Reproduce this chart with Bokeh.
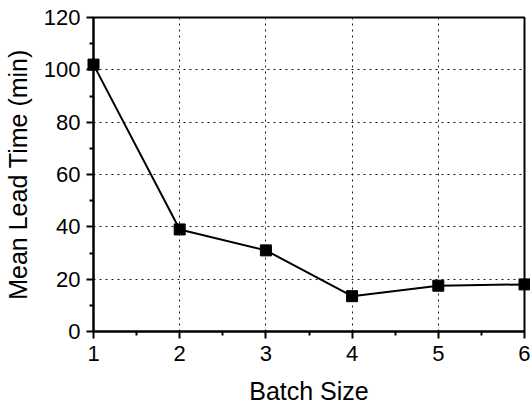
from bokeh.plotting import figure
from bokeh.models import FixedTicker, Range1d
from bokeh.embed import file_html
from bokeh.resources import INLINE

batch_size = [1, 2, 3, 4, 5, 6]
mean_lead_time = [102, 39, 31, 13.5, 17.5, 18]

x_ticks = [1, 2, 3, 4, 5, 6]
x_minor = [1.5, 2.5, 3.5, 4.5, 5.5]
y_ticks = [0, 20, 40, 60, 80, 100, 120]
y_minor = [10, 30, 50, 70, 90, 110]

x_title = "Batch Size"
y_title = "Mean Lead Time (min)"

FONT = "Liberation Sans"

p = figure(width=530, height=408, frame_width=431, frame_height=314,
           output_backend="svg", toolbar_location=None,
           x_range=Range1d(1, 6), y_range=Range1d(0, 120),
           min_border_left=93, min_border_right=6, min_border_top=17, min_border_bottom=77)

p.background_fill_color = "white"
p.border_fill_color = "white"
p.outline_line_color = "black"
p.outline_line_width = 2

p.xaxis.ticker = FixedTicker(ticks=x_ticks, minor_ticks=x_minor)
p.yaxis.ticker = FixedTicker(ticks=y_ticks, minor_ticks=y_minor)

for ax in (p.xaxis[0], p.yaxis[0]):
    ax.axis_line_color = "black"
    ax.axis_line_width = 2
    ax.major_tick_line_color = "black"
    ax.major_tick_line_width = 2
    ax.major_tick_out = 7
    ax.major_tick_in = 0
    ax.minor_tick_line_color = "black"
    ax.minor_tick_line_width = 2
    ax.minor_tick_out = 4
    ax.minor_tick_in = 0
    ax.major_label_text_font = FONT
    ax.major_label_text_font_size = "22px"
    ax.major_label_text_color = "black"
    ax.axis_label_text_font = FONT
    ax.axis_label_text_font_size = "25px"
    ax.axis_label_text_font_style = "normal"
    ax.axis_label_text_color = "black"

p.xaxis.axis_label = x_title
p.yaxis.axis_label = y_title
p.xaxis.major_label_standoff = 7
p.yaxis.major_label_standoff = 6
p.xaxis.axis_label_standoff = 13
p.yaxis.axis_label_standoff = 9

for g in (p.xgrid[0], p.ygrid[0]):
    g.grid_line_color = "black"
    g.grid_line_width = 1
    g.grid_line_dash = "2 4"
    g.grid_line_alpha = 0.9

p.line(batch_size, mean_lead_time, line_color="black", line_width=2)
p.scatter(batch_size, mean_lead_time, marker="square", size=11,
          fill_color="black", line_color="black", level="overlay")

open("out.html", "w").write(file_html(p, INLINE))
